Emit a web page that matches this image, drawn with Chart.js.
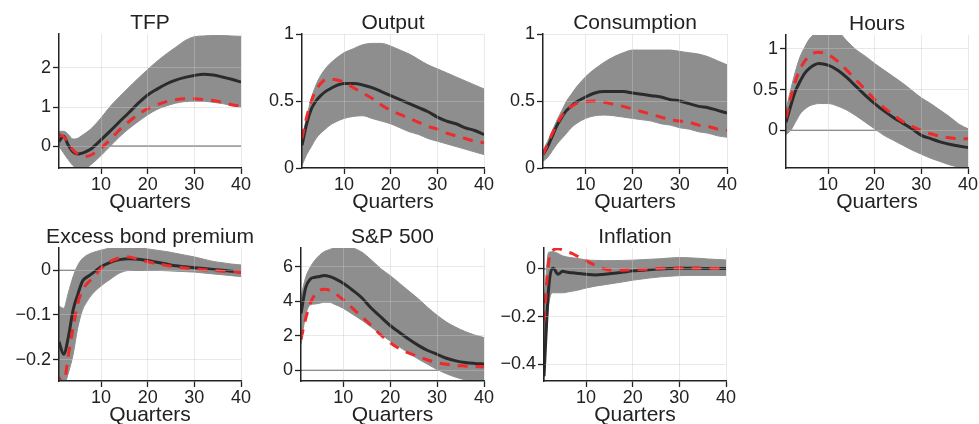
<!DOCTYPE html>
<html>
<head>
<meta charset="utf-8">
<script src="https://cdn.jsdelivr.net/npm/chart.js@4.4.1/dist/chart.umd.min.js"></script>
<style>
    html, body { margin: 0; padding: 0; background: #fff; }
    #wrap { position: relative; width: 979px; height: 424px; overflow: hidden; }
    #wrap canvas { position: absolute; }
</style>
</head>
<body>
<div id="wrap"></div>
<script>
// quarters
const quarters = [1, 2, 3, 4, 5, 6, 7, 8, 10, 12, 14, 16, 18, 20, 22, 24, 26, 28, 30, 32, 34, 36, 38, 40];
const xTicks = [10, 20, 30, 40];

// TFP
const tfpUpper  = [0.38, 0.38, 0.3, 0.18, 0.2, 0.28, 0.36, 0.46, 0.72, 1.02, 1.27, 1.51, 1.74, 1.96, 2.17, 2.36, 2.53, 2.7, 2.8, 2.82, 2.83, 2.83, 2.82, 2.81];
const tfpLower  = [0.0, -0.18, -0.35, -0.5, -0.58, -0.6, -0.55, -0.46, -0.24, 0.0, 0.24, 0.45, 0.63, 0.8, 0.94, 1.03, 1.1, 1.14, 1.15, 1.15, 1.12, 1.09, 1.04, 1.0];
const tfpMedian = [0.12, 0.25, 0.02, -0.15, -0.2, -0.18, -0.13, -0.06, 0.16, 0.39, 0.63, 0.86, 1.1, 1.31, 1.46, 1.59, 1.69, 1.76, 1.81, 1.84, 1.82, 1.77, 1.71, 1.64];
const tfpRed    = [0.3, 0.24, 0.08, -0.1, -0.2, -0.25, -0.26, -0.22, -0.05, 0.17, 0.42, 0.63, 0.81, 0.96, 1.06, 1.14, 1.19, 1.21, 1.21, 1.19, 1.17, 1.12, 1.06, 1.02];
const tfpTicks  = [0, 1, 2];

// Output
const outUpper  = [0.22, 0.38, 0.52, 0.62, 0.69, 0.74, 0.78, 0.81, 0.86, 0.89, 0.92, 0.93, 0.93, 0.91, 0.88, 0.85, 0.81, 0.77, 0.74, 0.71, 0.68, 0.65, 0.62, 0.59];
const outLower  = [0.02, 0.1, 0.16, 0.22, 0.26, 0.29, 0.32, 0.34, 0.37, 0.385, 0.39, 0.37, 0.35, 0.33, 0.3, 0.27, 0.25, 0.22, 0.2, 0.18, 0.16, 0.14, 0.12, 0.1];
const outMedian = [0.17, 0.33, 0.44, 0.5, 0.54, 0.57, 0.59, 0.61, 0.63, 0.63, 0.62, 0.6, 0.57, 0.54, 0.51, 0.48, 0.45, 0.42, 0.38, 0.35, 0.33, 0.3, 0.28, 0.25];
const outRed    = [0.22, 0.38, 0.5, 0.58, 0.63, 0.66, 0.665, 0.66, 0.64, 0.6, 0.56, 0.52, 0.47, 0.43, 0.4, 0.37, 0.34, 0.31, 0.29, 0.26, 0.24, 0.22, 0.2, 0.19];
const outTicks  = [0, 0.5, 1];

// Consumption
const conUpper  = [0.13, 0.2, 0.28, 0.36, 0.43, 0.5, 0.55, 0.6, 0.68, 0.74, 0.79, 0.83, 0.86, 0.88, 0.88, 0.88, 0.88, 0.88, 0.87, 0.86, 0.85, 0.83, 0.8, 0.77];
const conLower  = [0.05, 0.08, 0.13, 0.18, 0.22, 0.26, 0.3, 0.33, 0.37, 0.39, 0.395, 0.39, 0.38, 0.37, 0.36, 0.35, 0.33, 0.32, 0.3, 0.29, 0.27, 0.26, 0.24, 0.23];
const conMedian = [0.1, 0.16, 0.24, 0.32, 0.38, 0.43, 0.46, 0.49, 0.53, 0.56, 0.57, 0.57, 0.57, 0.56, 0.55, 0.54, 0.53, 0.51, 0.5, 0.48, 0.46, 0.45, 0.43, 0.41];
const conRed    = [0.1, 0.18, 0.26, 0.33, 0.39, 0.44, 0.46, 0.48, 0.495, 0.5, 0.49, 0.475, 0.46, 0.44, 0.42, 0.4, 0.38, 0.36, 0.35, 0.34, 0.32, 0.31, 0.29, 0.28];
const conTicks  = [0, 0.5, 1];

// Hours
const hrsUpper  = [0.25, 0.5, 0.72, 0.9, 1.02, 1.12, 1.18, 1.22, 1.24, 1.22, 1.1, 0.99, 0.91, 0.82, 0.74, 0.66, 0.58, 0.49, 0.4, 0.33, 0.25, 0.17, 0.08, 0.02];
const hrsLower  = [-0.05, 0.0, 0.1, 0.2, 0.26, 0.3, 0.32, 0.33, 0.33, 0.3, 0.25, 0.18, 0.1, 0.02, -0.06, -0.12, -0.18, -0.24, -0.29, -0.34, -0.38, -0.42, -0.45, -0.48];
const hrsMedian = [0.1, 0.3, 0.48, 0.6, 0.7, 0.76, 0.8, 0.82, 0.8, 0.74, 0.65, 0.54, 0.43, 0.33, 0.24, 0.16, 0.09, 0.02, -0.06, -0.1, -0.14, -0.17, -0.19, -0.21];
const hrsRed    = [0.15, 0.4, 0.6, 0.75, 0.85, 0.91, 0.95, 0.96, 0.93, 0.85, 0.74, 0.62, 0.5, 0.38, 0.28, 0.19, 0.11, 0.05, 0.0, -0.04, -0.07, -0.09, -0.1, -0.1];
const hrsTicks  = [0, 0.5, 1];

// Excess bond premium
const ebpUpper  = [-0.08, -0.085, -0.05, -0.015, 0.011, 0.026, 0.034, 0.039, 0.045, 0.05, 0.052, 0.052, 0.051, 0.048, 0.045, 0.042, 0.038, 0.034, 0.03, 0.025, 0.02, 0.017, 0.014, 0.012];
const ebpLower  = [-0.24, -0.26, -0.23, -0.19, -0.13, -0.09, -0.07, -0.055, -0.035, -0.02, -0.006, 0.0, 0.002, 0.001, 0.0, -0.001, -0.002, -0.003, -0.004, -0.006, -0.008, -0.01, -0.012, -0.014];
const ebpMedian = [-0.16, -0.188, -0.15, -0.09, -0.055, -0.025, -0.015, -0.008, 0.008, 0.018, 0.024, 0.026, 0.025, 0.022, 0.018, 0.014, 0.01, 0.008, 0.006, 0.004, 0.002, 0.0, -0.002, -0.004];
const ebpRed    = [-0.24, -0.255, -0.19, -0.13, -0.075, -0.045, -0.03, -0.02, 0.004, 0.02, 0.028, 0.03, 0.024, 0.019, 0.015, 0.011, 0.008, 0.005, 0.003, 0.001, 0.0, -0.002, -0.003, -0.004];
const ebpTicks  = [-0.2, -0.1, 0];

// S&P 500
const spUpper  = [4.3, 5.4, 6.0, 6.4, 6.7, 6.9, 7.0, 7.1, 7.15, 7.1, 6.85, 6.4, 5.9, 5.5, 5.05, 4.6, 4.15, 3.65, 3.2, 2.8, 2.5, 2.25, 2.05, 1.9];
const spLower  = [1.5, 3.2, 3.8, 3.85, 3.9, 3.95, 3.95, 3.85, 3.6, 3.25, 2.9, 2.5, 2.1, 1.7, 1.35, 1.0, 0.65, 0.35, 0.05, -0.2, -0.4, -0.55, -0.62, -0.66];
const spMedian = [3.3, 4.8, 5.3, 5.4, 5.45, 5.5, 5.45, 5.35, 5.05, 4.65, 4.2, 3.6, 3.1, 2.6, 2.2, 1.8, 1.45, 1.15, 0.93, 0.7, 0.55, 0.45, 0.4, 0.37];
const spRed    = [1.8, 3.0, 3.9, 4.4, 4.65, 4.7, 4.65, 4.5, 4.1, 3.6, 3.1, 2.6, 2.05, 1.6, 1.25, 1.0, 0.8, 0.6, 0.45, 0.35, 0.28, 0.25, 0.22, 0.2];
const spTicks  = [0, 2, 4, 6];

// Inflation
const infUpper  = [-0.15, 0.07, 0.072, 0.065, 0.055, 0.05, 0.047, 0.045, 0.038, 0.036, 0.035, 0.035, 0.036, 0.037, 0.039, 0.041, 0.043, 0.046, 0.048, 0.047, 0.045, 0.042, 0.04, 0.038];
const infLower  = [-0.47, -0.15, -0.1, -0.1, -0.1, -0.097, -0.093, -0.09, -0.08, -0.072, -0.066, -0.06, -0.054, -0.047, -0.042, -0.037, -0.033, -0.03, -0.028, -0.027, -0.027, -0.027, -0.027, -0.027];
const infMedian = [-0.45, -0.08, 0.003, -0.022, -0.01, -0.014, -0.016, -0.018, -0.022, -0.025, -0.022, -0.018, -0.013, -0.008, -0.005, -0.002, 0.0, 0.002, 0.003, 0.003, 0.003, 0.002, 0.002, 0.002];
const infRed    = [-0.22, 0.03, 0.08, 0.085, 0.08, 0.072, 0.065, 0.055, 0.035, 0.015, 0.0, -0.006, -0.005, -0.004, -0.002, 0.0, 0.002, 0.003, 0.004, 0.004, 0.003, 0.003, 0.002, 0.002];
const infTicks  = [-0.4, -0.2, 0];

const panels = [
    { title: 'TFP', upper: tfpUpper, lower: tfpLower, median: tfpMedian, red: tfpRed, ticks: tfpTicks, min: -0.56, max: 2.87 },
    { title: 'Output', upper: outUpper, lower: outLower, median: outMedian, red: outRed, ticks: outTicks, min: 0, max: 1 },
    { title: 'Consumption', upper: conUpper, lower: conLower, median: conMedian, red: conRed, ticks: conTicks, min: 0, max: 1 },
    { title: 'Hours', upper: hrsUpper, lower: hrsLower, median: hrsMedian, red: hrsRed, ticks: hrsTicks, min: -0.46, max: 1.17 },
    { title: 'Excess bond premium', upper: ebpUpper, lower: ebpLower, median: ebpMedian, red: ebpRed, ticks: ebpTicks, min: -0.248, max: 0.05 },
    { title: 'S&P 500', upper: spUpper, lower: spLower, median: spMedian, red: spRed, ticks: spTicks, min: -0.62, max: 7.1 },
    { title: 'Inflation', upper: infUpper, lower: infLower, median: infMedian, red: infRed, ticks: infTicks, min: -0.47, max: 0.088 }
];

// plot areas on the page (left, right, top, bottom)
const boxes = [
    [59, 241, 34, 168], [302, 484, 34, 168], [543, 727, 34, 168], [786, 968, 35, 168],
    [59, 241, 248, 381], [301, 484, 248, 381], [544, 726, 248, 381]
];

const FONT = '"Liberation Sans", Arial, Helvetica, sans-serif';
const AXIS_W = 55;
const TITLE_H = 30;
const XAXIS_H = 47;
const GRID = 'rgba(200,200,200,0.4)';

const toXY = (arr) => arr.map((v, i) => ({ x: quarters[i], y: v }));
const fmt = (v) => String(v).replace('-', '\u2212');

// thin line at zero, drawn under the band
const zeroLine = {
    id: 'zeroLine',
    beforeDatasetsDraw(chart) {
        const ys = chart.scales.y;
        if (ys.min >= 0 || ys.max <= 0) return;
        const y = ys.getPixelForValue(0);
        const { left, right } = chart.chartArea;
        const ctx = chart.ctx;
        ctx.save();
        ctx.strokeStyle = '#666';
        ctx.lineWidth = 1.2;
        ctx.beginPath();
        ctx.moveTo(left, y);
        ctx.lineTo(right, y);
        ctx.stroke();
        ctx.restore();
    }
};

const wrap = document.getElementById('wrap');

panels.forEach((p, i) => {
    const [l, r, t, b] = boxes[i];
    const w = AXIS_W + (r - l) + AXIS_W;
    const h = TITLE_H + (b - t) + XAXIS_H;
    const canvas = document.createElement('canvas');
    canvas.width = w;
    canvas.height = h;
    canvas.style.width = w + 'px';
    canvas.style.height = h + 'px';
    canvas.style.left = (l - AXIS_W) + 'px';
    canvas.style.top = (t - TITLE_H) + 'px';
    wrap.appendChild(canvas);

    const line = { pointRadius: 0, cubicInterpolationMode: 'monotone', fill: false };

    new Chart(canvas, {
        type: 'line',
        data: {
            datasets: [
                { ...line, data: toXY(p.red), borderColor: '#ee2a2a', borderWidth: 3, borderDash: [10, 8] },
                { ...line, data: toXY(p.median), borderColor: '#2b2b2b', borderWidth: 3 },
                { ...line, data: toXY(p.upper), borderColor: '#8e8e8e', borderWidth: 1, backgroundColor: '#8e8e8e', fill: '+1' },
                { ...line, data: toXY(p.lower), borderColor: '#8e8e8e', borderWidth: 1 }
            ]
        },
        options: {
            responsive: false,
            animation: false,
            layout: { padding: 0 },
            plugins: {
                legend: { display: false },
                tooltip: { enabled: false },
                title: {
                    display: true,
                    text: p.title,
                    color: '#222',
                    font: { family: FONT, size: 21, weight: 'normal', lineHeight: 1.0 },
                    padding: { top: TITLE_H - 21, bottom: 0 }
                }
            },
            scales: {
                x: {
                    type: 'linear',
                    min: 1,
                    max: 40,
                    afterBuildTicks: (s) => { s.ticks = xTicks.map(v => ({ value: v })); },
                    afterFit: (s) => { s.height = XAXIS_H; },
                    grid: { color: GRID, z: 1, tickColor: '#222', tickLength: 6, tickWidth: 1.3 },
                    border: { color: '#222', width: 1.5, z: 2 },
                    ticks: { color: '#222', font: { family: FONT, size: 18 }, padding: 0, maxRotation: 0 },
                    title: {
                        display: true,
                        text: 'Quarters',
                        color: '#222',
                        font: { family: FONT, size: 21, lineHeight: 1.2 },
                        padding: { top: 0, bottom: 0 }
                    }
                },
                y: {
                    min: p.min,
                    max: p.max,
                    afterBuildTicks: (s) => { s.ticks = p.ticks.map(v => ({ value: v })); },
                    afterFit: (s) => { s.width = AXIS_W; },
                    grid: { color: GRID, z: 1, tickColor: '#222', tickLength: 6, tickWidth: 1.3 },
                    border: { color: '#222', width: 1.5, z: 2 },
                    ticks: { color: '#222', font: { family: FONT, size: 18 }, padding: 2, callback: (v) => fmt(v) }
                },
                // empty right-hand box so the title is centred over the plot
                pad: {
                    type: 'linear',
                    position: 'right',
                    afterFit: (s) => { s.width = AXIS_W; },
                    grid: { display: false, drawTicks: false },
                    border: { display: false },
                    ticks: { display: false }
                }
            }
        },
        plugins: [zeroLine]
    });
});
</script>
</body>
</html>
